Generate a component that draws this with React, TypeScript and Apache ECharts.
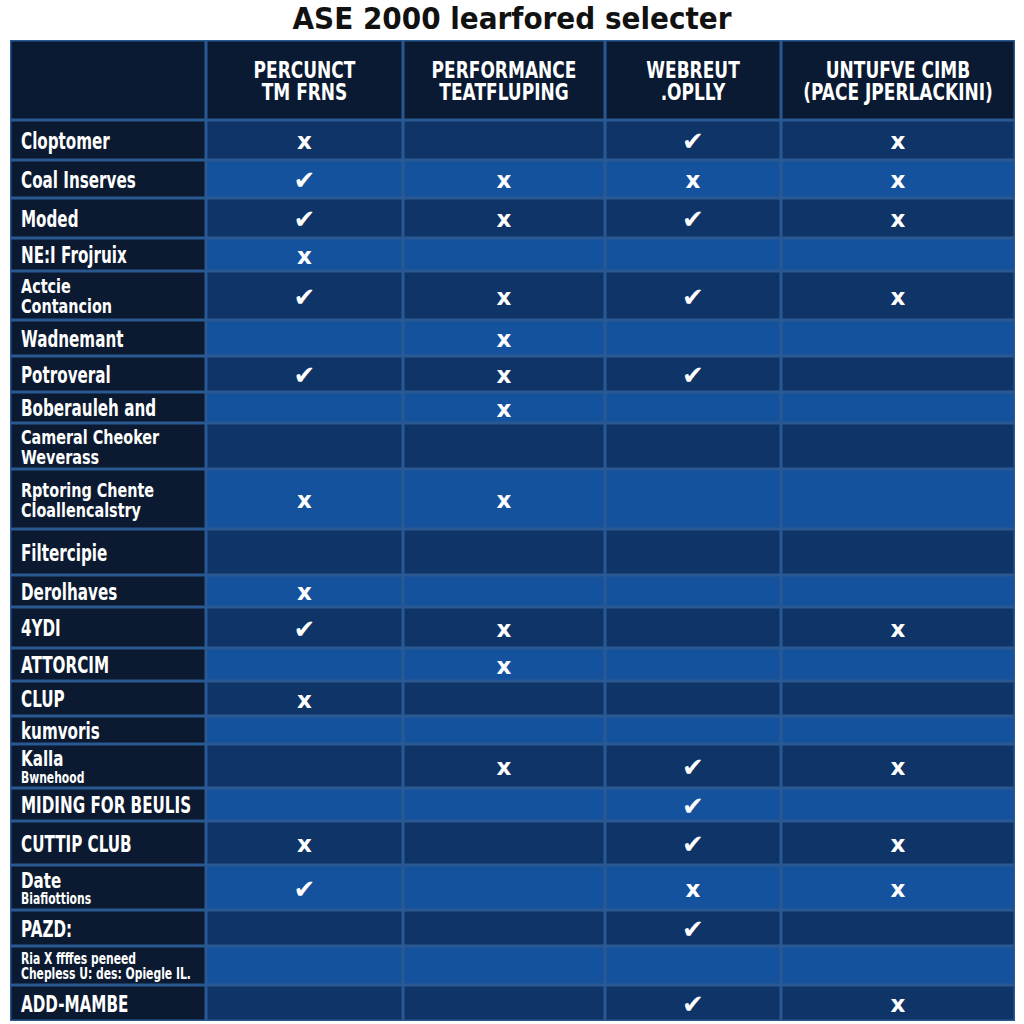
import React, { useEffect, useRef } from "react";
import * as echarts from "echarts";

const chartTitle = "ASE 2000 learfored selecter";
const columnHeaders = ["", "PERCUNCT\nTM FRNS", "PERFORMANCE\nTEATFLUPING", "WEBREUT\n.OPLLY", "UNTUFVE CIMB\n(PACE JPERLACKINI)"];
const columnWidths = [196, 197, 202, 176, 234];
const headerHeight = 80;
const rowLabels = [
  "Cloptomer",
  "Coal Inserves",
  "Moded",
  "NE:I Frojruix",
  "Actcie\nContancion",
  "Wadnemant",
  "Potroveral",
  "Boberauleh and",
  "Cameral Cheoker\nWeverass",
  "Rptoring Chente\nCloallencalstry",
  "Filtercipie",
  "Derolhaves",
  "4YDI",
  "ATTORCIM",
  "CLUP",
  "kumvoris",
  "Kalla\nBwnehood",
  "MIDING FOR BEULIS",
  "CUTTIP CLUB",
  "Date\nBiafiottions",
  "PAZD:",
  "Ria X ffffes peneed\nChepless U: des: Opiegle IL.",
  "ADD-MAMBE",
];
// n = normal, t = two lines, s = big + small line, xs = two small lines
const rowLabelKinds = ["n","n","n","n","t","n","n","n","t","t","n","n","n","n","n","n","s","n","n","s","n","xs","n"];
const rowHeights = [40, 38, 40, 33, 49, 36, 36, 31, 46, 60, 46, 32, 41, 33, 35, 28, 44, 33, 44, 45, 36, 39, 36];
const colPercunct = ["x","✔","✔","x","✔","","✔","","","x","","x","✔","","x","","","","x","✔","","",""];
const colPerformance = ["","x","x","","x","x","x","x","","x","","","x","x","","","x","","","","","",""];
const colWebreut = ["✔","x","✔","","✔","","✔","","","","","","","","","","✔","✔","✔","x","✔","","✔"];
const colUntufve = ["x","x","x","","x","","","","","","","","x","","","","x","","x","x","","","x"];

const markColumns = [colPercunct, colPerformance, colWebreut, colUntufve];

const FONT = "'DejaVu Sans', sans-serif";

export default function App() {
  const ref = useRef<HTMLDivElement>(null);
  useEffect(() => {
    if (!ref.current) return;
    const chart = echarts.init(ref.current, null, { renderer: "svg" });

    const colStarts: number[] = [];
    let acc = 0;
    for (const w of columnWidths) { colStarts.push(acc); acc += w; }
    const totalW = acc;
    const rowStarts: number[] = [];
    let ry = headerHeight;
    for (const h of rowHeights) { rowStarts.push(ry); ry += h; }
    const totalH = ry + 3;

    const data: number[][] = [];
    for (let c = 0; c < columnWidths.length; c++) {
      data.push([colStarts[c], colStarts[c] + columnWidths[c], 0, headerHeight, -1, c]);
      for (let r = 0; r < rowHeights.length; r++) {
        data.push([colStarts[c], colStarts[c] + columnWidths[c], rowStarts[r], rowStarts[r] + rowHeights[r], r, c]);
      }
    }

    const labelText = (r: number) => {
      const kind = rowLabelKinds[r];
      const parts = rowLabels[r].split("\n");
      if (kind === "s") return `{b2|${parts[0]}}\n{sm|${parts[1]}}`;
      if (kind === "xs") return `{xs|${parts[0]}}\n{xs|${parts[1]}}`;
      if (kind === "t") return `{t|${parts[0]}}\n{t|${parts[1]}}`;
      return `{b|${rowLabels[r]}}`;
    };

    const renderItem = (params: any, api: any) => {
      const x0 = api.value(0), x1 = api.value(1), y0 = api.value(2), y1 = api.value(3);
      const r = api.value(4), c = api.value(5);
      const p0 = api.coord([x0, y0]);
      const p1 = api.coord([x1, y1]);
      const left = p0[0], top = p0[1], w = p1[0] - p0[0], h = p1[1] - p0[1];
      let fill: string;
      if (r < 0) fill = "#0a1a32";
      else if (c === 0) fill = "#0b1a30";
      else fill = r % 2 === 0 ? "#0f3467" : "#15529d";
      const children: any[] = [
        { type: "rect", shape: { x: left, y: top, width: w, height: h }, style: { fill: "#2a5893" } },
        { type: "rect", shape: { x: left + 1.5, y: top + 1.5, width: w - 3, height: h - 3 }, style: { fill } },
      ];
      if (r < 0) {
        if (columnHeaders[c]) {
          children.push({
            type: "text",
            x: left + w / 2, y: top + h / 2 + 1, scaleX: 0.74,
            style: {
              text: columnHeaders[c], x: 0, y: 0,
              align: "center", verticalAlign: "middle", fill: "#ffffff",
              fontFamily: FONT, fontWeight: "bold", fontSize: 23, lineHeight: 22,
            },
          });
        }
      } else if (c === 0) {
        const kind = rowLabelKinds[r];
        children.push({
          type: "text",
          x: left + 11, y: top + h / 2 + 1, scaleX: kind === "n" ? 0.66 : 0.72,
          style: {
            text: labelText(r), x: 0, y: 0,
            align: "left", verticalAlign: "middle", fill: "#ffffff",
            fontFamily: FONT, fontWeight: "bold",
            rich: {
              b: { fontFamily: FONT, fontWeight: "bold", fontSize: 23, lineHeight: 23, fill: "#ffffff" },
              b2: { fontFamily: FONT, fontWeight: "bold", fontSize: 21, lineHeight: 21, fill: "#ffffff" },
              t: { fontFamily: FONT, fontWeight: "bold", fontSize: 20, lineHeight: 20, fill: "#ffffff" },
              sm: { fontFamily: FONT, fontWeight: "bold", fontSize: 15, lineHeight: 16, fill: "#ffffff" },
              xs: { fontFamily: FONT, fontWeight: "bold", fontSize: 15, lineHeight: 15, fill: "#ffffff" },
            },
          },
        });
      } else {
        const mark = markColumns[c - 1][r];
        if (mark) {
          children.push({
            type: "text",
            x: left + w / 2, y: top + h / 2 + 1,
            style: {
              text: mark, x: 0, y: 0,
              align: "center", verticalAlign: "middle", fill: "#ffffff",
              fontFamily: FONT,
              fontWeight: "bold", fontSize: mark === "x" ? 23 : 26,
            },
          });
        }
      }
      return { type: "group", children };
    };

    chart.setOption({
      animation: false,
      backgroundColor: "#ffffff",
      title: {
        text: chartTitle, left: "center", top: -3,
        textStyle: { fontFamily: "'DejaVu Sans Condensed', 'DejaVu Sans', sans-serif", fontWeight: "bold", fontSize: 31, color: "#111111" },
      },
      grid: { left: 10, right: 9, top: 40, bottom: 1024 - 40 - totalH },
      xAxis: { type: "value", min: 0, max: totalW, show: false },
      yAxis: { type: "value", min: 0, max: totalH, inverse: true, show: false },
      series: [{ type: "custom", renderItem, data, clip: false }],
    });
    return () => chart.dispose();
  }, []);
  return <div ref={ref} style={{ position: "fixed", left: 0, top: 0, width: 1024, height: 1024 }} />;
}
